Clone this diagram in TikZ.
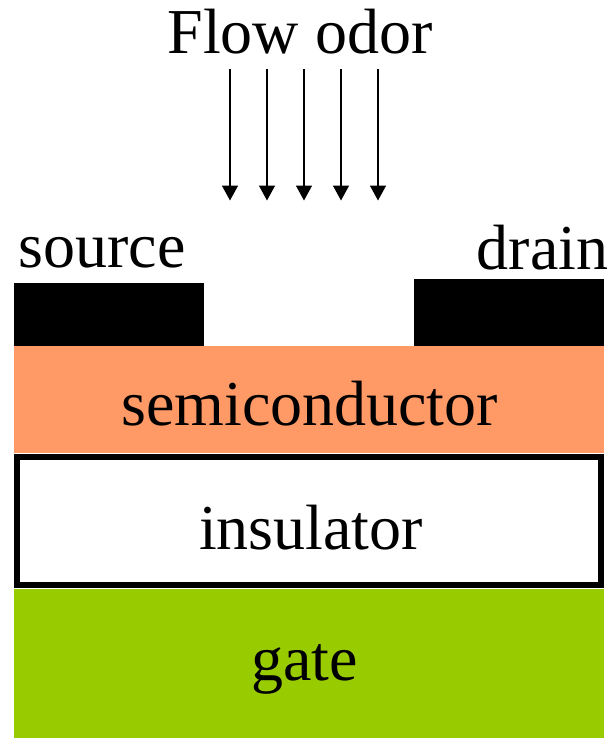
\documentclass[tikz,border=0pt]{standalone}
\usepackage{fontspec}
\setmainfont{Liberation Serif}
\usepackage{xcolor}
\definecolor{myorange}{RGB}{255,153,102}
\definecolor{mygreen}{RGB}{153,204,0}
\usetikzlibrary{positioning}
\usetikzlibrary{arrows.meta}
\tikzset{
  layerlabel/.style={font=\fontsize{64pt}{70pt}\selectfont,inner sep=0pt,anchor=base},
  contact/.style={fill=black,minimum width=190pt,minimum height=63pt,inner sep=0pt,outer sep=0pt},
  flowarrow/.style={-{Triangle[length=15pt,width=16pt]},line width=1.5pt},
}
\begin{document}
\begin{tikzpicture}[x=1pt,y=-1pt]
        \useasboundingbox (0,0) rectangle (611,738);
        \fill[mygreen] (14,589) rectangle (604,738);
        \fill[myorange] (14,345.5) rectangle (604,452.5);
        \draw[line width=6pt] (17,457) rectangle (601,585);
        \node[contact,anchor=north west] (source) at (14,283) {};
        \node[contact,anchor=north west,minimum height=67pt] (drain) at (414,279) {};
        \node[layerlabel] (flow) at (300,53.5) {Flow odor};
        \node[layerlabel] (sourcetext) at (102,267) {source};
        \node[layerlabel] (draintext) at (542.5,269) {drain};
        \node[layerlabel] (semi) at (309.5,425.5) {semiconductor};
        \node[layerlabel] (ins) at (311,549) {insulator};
        \node[layerlabel] (gate) at (304.5,680) {gate};
        \foreach \s in {230,267,304,341,378}{
          \coordinate (top\s) at (\s,69);
          \coordinate (end\s) at (\s,200.5);
          \draw[flowarrow] (top\s) -- (end\s);
        }
      \end{tikzpicture}
\end{document}
